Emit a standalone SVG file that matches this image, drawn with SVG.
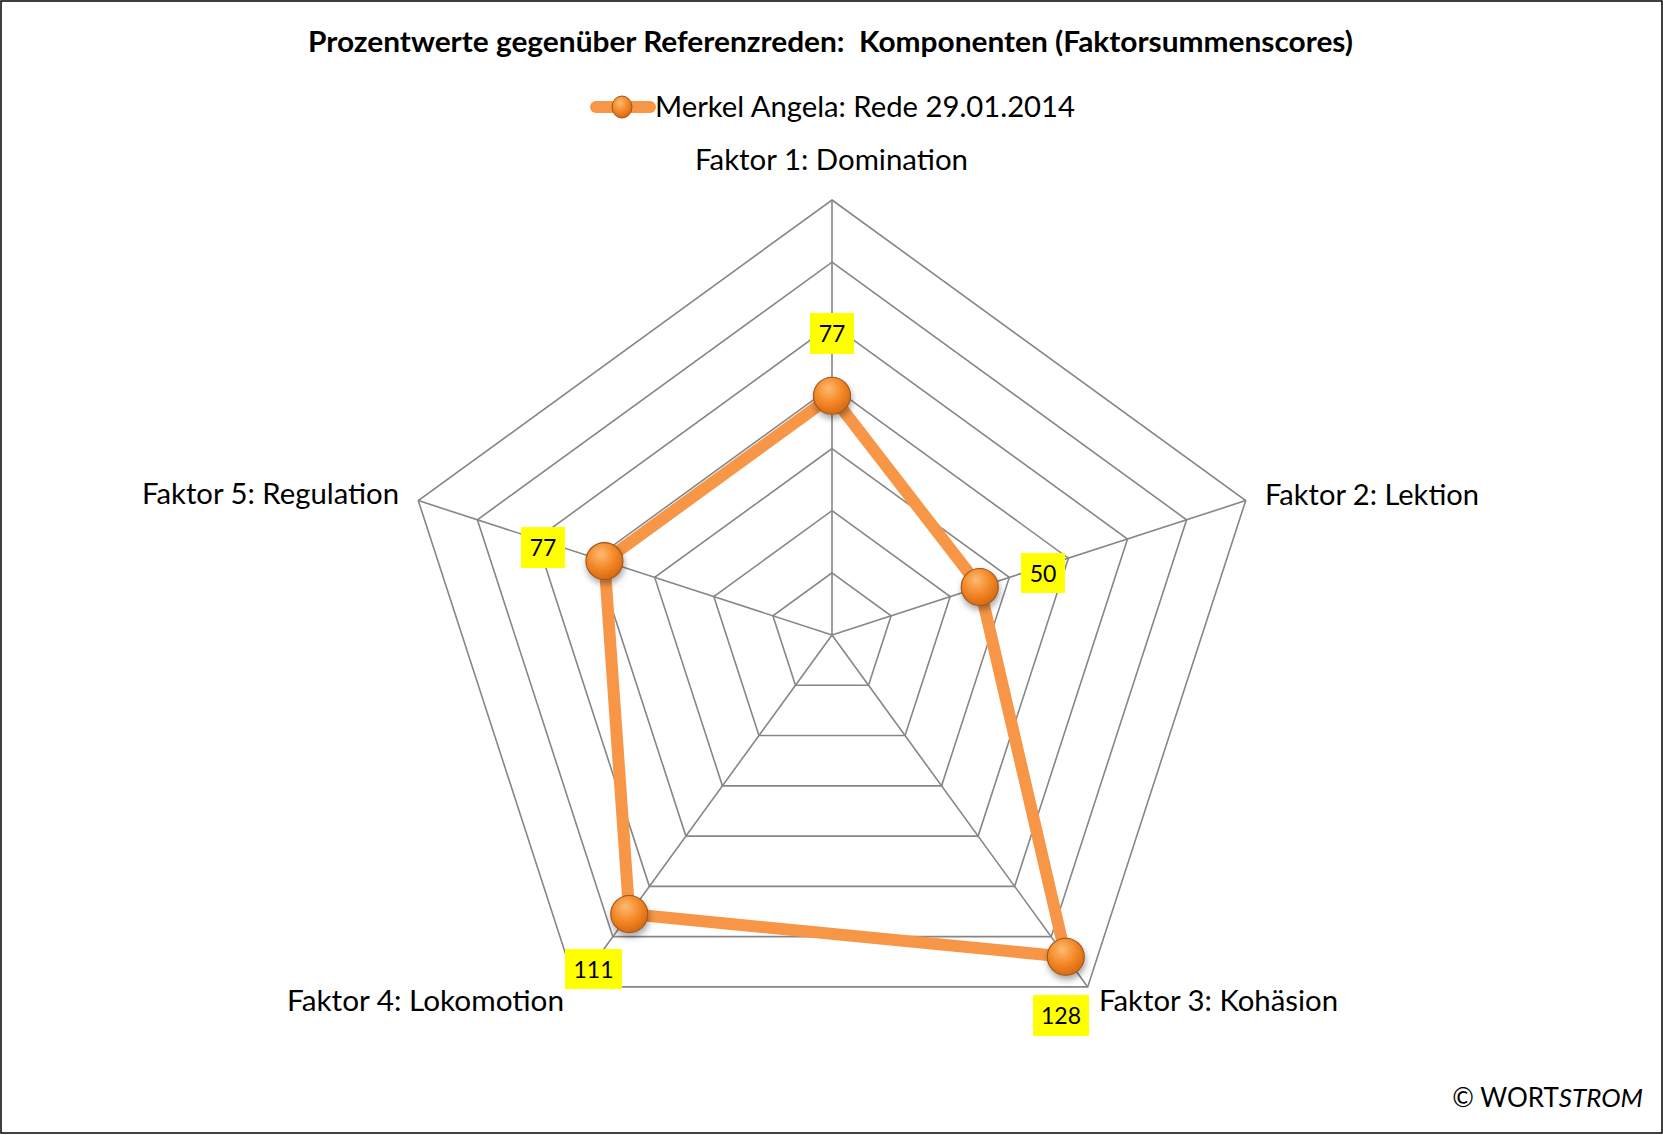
<svg xmlns="http://www.w3.org/2000/svg" width="1663" height="1135" viewBox="0 0 1663 1135">
<defs>
<radialGradient id="ball" cx="0.42" cy="0.35" r="0.65" fx="0.4" fy="0.3">
<stop offset="0" stop-color="#FDBB72"/>
<stop offset="0.55" stop-color="#F58A2A"/>
<stop offset="1" stop-color="#D86A10"/>
</radialGradient>
<filter id="shadow" x="-50%" y="-50%" width="200%" height="200%">
<feDropShadow dx="1" dy="4" stdDeviation="3" flood-color="#000" flood-opacity="0.35"/>
</filter>
<style>
.grid{fill:none;stroke:#868686;stroke-width:1.6}
.series{fill:none;stroke:#F79646;stroke-width:12;stroke-linejoin:miter}
.ball{fill:url(#ball);stroke:#A0561C;stroke-width:1.2;filter:url(#shadow)}
.lbl{fill:#FFFF00}
.lt{font-family:Lato,"Open Sans","Liberation Sans",sans-serif;font-size:23px;fill:#000;text-anchor:middle}
.ax{font-family:Lato,"Open Sans","Liberation Sans",sans-serif;font-size:28px;fill:#000}
.cr{font-family:Lato,"Open Sans","Liberation Sans",sans-serif;font-size:26px;fill:#000;text-anchor:end}
.title{font-family:Lato,"Open Sans","Liberation Sans",sans-serif;font-size:29px;font-weight:bold;fill:#000;white-space:pre}
</style>
</defs>
<rect x="0" y="0" width="1663" height="1135" fill="#fff"/>
<rect x="1" y="1" width="1661" height="1132" fill="none" stroke="#000" stroke-width="1.5"/>
<text class="title" x="308" y="52" textLength="1045" lengthAdjust="spacingAndGlyphs" xml:space="preserve">Prozentwerte gegenüber Referenzreden:  Komponenten (Faktorsummenscores)</text>
<g id="legend">
<line x1="596" y1="107" x2="650" y2="107" stroke="#F79646" stroke-width="12" stroke-linecap="round"/>
<ellipse cx="622" cy="107" rx="10" ry="11" fill="url(#ball)" stroke="#A0561C" stroke-width="1"/>
<text class="ax" x="655" y="117" textLength="420" lengthAdjust="spacingAndGlyphs">Merkel Angela: Rede 29.01.2014</text>
</g>
<g id="grid">
<polygon class="grid" points="832,572.86 891.10,615.80 868.53,685.27 795.47,685.27 772.90,615.80"/>
<polygon class="grid" points="832,510.71 950.20,596.59 905.05,735.55 758.95,735.55 713.80,596.59"/>
<polygon class="grid" points="832,448.57 1009.31,577.39 941.58,785.83 722.42,785.83 654.69,577.39"/>
<polygon class="grid" points="832,386.43 1068.40,558.19 978.11,836.10 685.89,836.10 595.60,558.19"/>
<polygon class="grid" points="832,324.29 1127.50,538.98 1014.63,886.37 649.37,886.37 536.50,538.98"/>
<polygon class="grid" points="832,262.14 1186.61,519.78 1051.16,936.65 612.84,936.65 477.39,519.78"/>
<polygon class="grid" points="832,200 1245.71,500.58 1087.69,986.92 576.31,986.92 418.29,500.58"/>
<path class="grid" d="M832,635 L832,200 M832,635 L1245.71,500.58 M832,635 L1087.69,986.92 M832,635 L576.31,986.92 M832,635 L418.29,500.58"/>
</g>
<g id="axis-labels">
<text id="ax1" class="ax" x="695" y="170" textLength="273" lengthAdjust="spacingAndGlyphs">Faktor 1: Domination</text>
<text id="ax2" class="ax" x="1265" y="505" textLength="214" lengthAdjust="spacingAndGlyphs">Faktor 2: Lektion</text>
<text id="ax3" class="ax" x="1099" y="1011" textLength="239" lengthAdjust="spacingAndGlyphs">Faktor 3: Kohäsion</text>
<text id="ax4" class="ax" x="287" y="1011" textLength="277" lengthAdjust="spacingAndGlyphs">Faktor 4: Lokomotion</text>
<text id="ax5" class="ax" x="142" y="504" textLength="257" lengthAdjust="spacingAndGlyphs">Faktor 5: Regulation</text>
</g>
<g id="connectors">
<polygon class="series" points="832,395.75 979.75,586.99 1065.77,956.75 629.28,914.02 604.46,561.07"/>
</g>
<g id="p1"><circle class="ball" cx="832" cy="395.75" r="18.5"/></g>
<g id="p2"><circle class="ball" cx="979.75" cy="586.99" r="18.5"/></g>
<g id="p3"><circle class="ball" cx="1065.77" cy="956.75" r="18.5"/></g>
<g id="p4"><circle class="ball" cx="629.28" cy="914.02" r="18.5"/></g>
<g id="p5"><circle class="ball" cx="604.46" cy="561.07" r="18.5"/></g>
<g id="l1"><rect class="lbl" x="810" y="313" width="44" height="41"/><text class="lt" x="832" y="342">77</text></g>
<g id="l2"><rect class="lbl" x="1021" y="553" width="44" height="40"/><text class="lt" x="1043" y="582">50</text></g>
<g id="l3"><rect class="lbl" x="1033" y="995" width="56" height="41"/><text class="lt" x="1061" y="1024">128</text></g>
<g id="l4"><rect class="lbl" x="565" y="949" width="57" height="40"/><text class="lt" x="593.5" y="978">111</text></g>
<g id="l5"><rect class="lbl" x="521" y="527" width="44" height="41"/><text class="lt" x="543" y="556">77</text></g>
<g id="copyright">
<text class="cr" x="1643" y="1107">© WORT<tspan font-style="italic">STROM</tspan></text>
</g>
</svg>
